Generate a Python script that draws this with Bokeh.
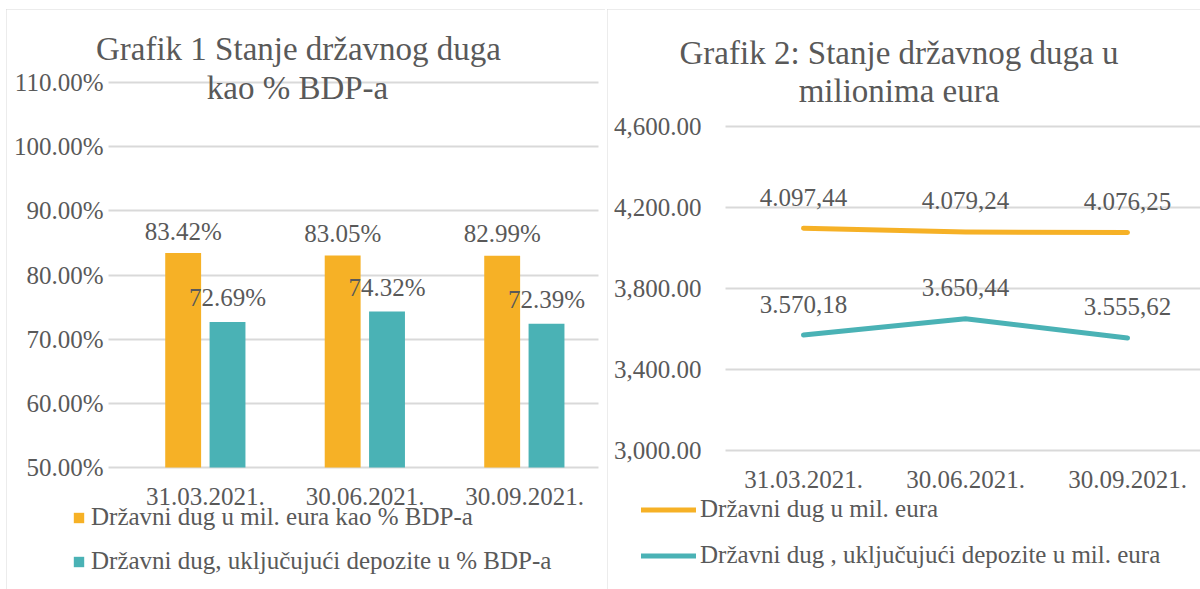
from bokeh.plotting import figure
from bokeh.models import (Range1d, FixedTicker, PrintfTickFormatter, NumeralTickFormatter,
                          ColumnDataSource, LabelSet, Label, Legend, LegendItem)
from bokeh.layouts import row
from bokeh.embed import file_html
from bokeh.resources import INLINE
from bokeh.transform import dodge
from bokeh.core.properties import value

# ---------------- data ----------------
categories = ["31.03.2021.", "30.06.2021.", "30.09.2021."]
debt_pct = [83.42, 83.05, 82.99]
debt_dep_pct = [72.69, 74.32, 72.39]
debt_mil = [4097.44, 4079.24, 4076.25]
debt_dep_mil = [3570.18, 3650.44, 3555.62]
pct_ticks = [50, 60, 70, 80, 90, 100, 110]
mil_ticks = [3000, 3400, 3800, 4200, 4600]
series1_left = "Državni dug u mil. eura kao % BDP-a"
series2_left = "Državni dug, uključujući depozite u % BDP-a"
series1_right = "Državni dug u mil. eura"
series2_right = "Državni dug , uključujući depozite u mil. eura"
title1 = ["Grafik 1 Stanje državnog duga", "kao % BDP-a"]
title2 = ["Grafik 2: Stanje državnog duga u", "milionima eura"]

ORANGE = "#F6B126"
TEAL = "#4AB2B5"
TXT = "#595959"
GRID = "#D9D9D9"
FONT = "Liberation Serif"


def eu(v):
    s = f"{v:,.2f}"
    return s.replace(",", "#").replace(".", ",").replace("#", ".")


pos = list(range(len(categories)))
overrides = {i: c for i, c in enumerate(categories)}
border_style = {"outline": "2px solid #D9D9D9", "outline-offset": "-2px"}


def style_axes(p, ystandoff, yfix, xfix, gbounds):
    for ax in (p.xaxis[0], p.yaxis[0]):
        ax.axis_line_color = None
        ax.major_tick_line_color = None
        ax.minor_tick_line_color = None
        ax.major_tick_out = 0
        ax.major_tick_in = 0
        ax.minor_tick_out = 0
        ax.minor_tick_in = 0
        ax.major_label_text_font = FONT
        ax.major_label_text_font_size = "25px"
        ax.major_label_text_color = TXT
    p.yaxis[0].major_label_standoff = ystandoff
    p.xaxis[0].major_label_standoff = 20
    p.yaxis[0].fixed_location = yfix
    p.xaxis[0].fixed_location = xfix
    p.xgrid.visible = False
    p.ygrid.grid_line_color = GRID
    p.ygrid.grid_line_width = 2
    p.ygrid.cross_bounds = gbounds
    p.outline_line_color = None


# ---------------- left: bar chart ----------------
src1 = ColumnDataSource(dict(
    x=pos, a=debt_pct, b=debt_dep_pct,
    al=[f"{v:.2f}%" for v in debt_pct], bl=[f"{v:.2f}%" for v in debt_dep_pct]))

p1 = figure(width=599, height=580, output_backend="svg", toolbar_location=None,
            x_range=Range1d(-1.2476, 2.5078), y_range=Range1d(30.99, 121.38),
            min_border_left=0, min_border_right=0, min_border_top=0, min_border_bottom=0,
            margin=(9, 0, 0, 6))
p1.styles = border_style
style_axes(p1, 5, -0.6082, 50, (-0.6082, 2.464))
p1.yaxis[0].ticker = FixedTicker(ticks=pct_ticks)
p1.yaxis[0].formatter = PrintfTickFormatter(format="%.2f%%")
p1.xaxis[0].ticker = FixedTicker(ticks=pos)
p1.xaxis[0].major_label_overrides = overrides

rA = p1.vbar(x=dodge("x", -0.14, range=p1.x_range), top="a", bottom=50, width=0.225,
             source=src1, fill_color=ORANGE, line_color=None)
rB = p1.vbar(x=dodge("x", 0.138, range=p1.x_range), top="b", bottom=50, width=0.225,
             source=src1, fill_color=TEAL, line_color=None)

p1.add_layout(LabelSet(x=dodge("x", -0.14, range=p1.x_range), y="a", text="al", source=src1,
                       y_offset=22, text_align="center", text_baseline="middle",
                       text_font=value(FONT), text_font_size=value("25px"), text_color=TXT))
p1.add_layout(LabelSet(x=dodge("x", 0.138, range=p1.x_range), y="b", text="bl", source=src1,
                       y_offset=24, text_align="center", text_baseline="middle",
                       text_font=value(FONT), text_font_size=value("25px"), text_color=TXT))

p1.add_layout(Label(x=292, y=541, x_units="screen", y_units="screen", text=title1[0],
                    text_align="center", text_baseline="middle", text_font=FONT,
                    text_font_size="33px", text_color=TXT))
p1.add_layout(Label(x=291, y=502, x_units="screen", y_units="screen", text=title1[1],
                    text_align="center", text_baseline="middle", text_font=FONT,
                    text_font_size="33px", text_color=TXT))

leg1 = Legend(items=[LegendItem(label=series1_left, renderers=[rA]),
                     LegendItem(label=series2_left, renderers=[rB])],
              location=(66, 14), orientation="vertical",
              glyph_width=13, glyph_height=13, label_height=28, spacing=16,
              label_standoff=6, padding=0, margin=0,
              border_line_color=None, background_fill_alpha=0,
              label_text_font=FONT, label_text_font_size="25px", label_text_color=TXT)
p1.add_layout(leg1)

# ---------------- right: line chart ----------------
src2 = ColumnDataSource(dict(
    x=pos, a=debt_mil, b=debt_dep_mil,
    al=[eu(v) for v in debt_mil], bl=[eu(v) for v in debt_dep_mil]))

p2 = figure(width=593, height=580, output_backend="svg", toolbar_location=None,
            x_range=Range1d(-1.2099, 2.4506), y_range=Range1d(2313.6, 5177.8),
            min_border_left=0, min_border_right=0, min_border_top=0, min_border_bottom=0,
            margin=(9, 0, 0, 2))
p2.styles = border_style
style_axes(p2, 24, -0.4815, 3000, (-0.4815, 2.4506))
p2.yaxis[0].ticker = FixedTicker(ticks=mil_ticks)
p2.yaxis[0].formatter = NumeralTickFormatter(format="0,0.00")
p2.xaxis[0].ticker = FixedTicker(ticks=pos)
p2.xaxis[0].major_label_overrides = overrides

lA = p2.line(x="x", y="a", source=src2, line_color=ORANGE, line_width=5, line_cap="round",
             line_join="round")
lB = p2.line(x="x", y="b", source=src2, line_color=TEAL, line_width=5, line_cap="round",
             line_join="round")

p2.add_layout(LabelSet(x="x", y="a", text="al", source=src2, y_offset=31,
                       text_align="center", text_baseline="middle",
                       text_font=value(FONT), text_font_size=value("25px"), text_color=TXT))
p2.add_layout(LabelSet(x="x", y="b", text="bl", source=src2, y_offset=31,
                       text_align="center", text_baseline="middle",
                       text_font=value(FONT), text_font_size=value("25px"), text_color=TXT))

p2.add_layout(Label(x=291.5, y=537, x_units="screen", y_units="screen", text=title2[0],
                    text_align="center", text_baseline="middle", text_font=FONT,
                    text_font_size="33px", text_color=TXT))
p2.add_layout(Label(x=291.5, y=499, x_units="screen", y_units="screen", text=title2[1],
                    text_align="center", text_baseline="middle", text_font=FONT,
                    text_font_size="33px", text_color=TXT))

leg2 = Legend(items=[LegendItem(label=series1_right, renderers=[lA]),
                     LegendItem(label=series2_right, renderers=[lB])],
              location=(34, 20), orientation="vertical",
              glyph_width=55, glyph_height=13, label_height=28, spacing=18,
              label_standoff=4, padding=0, margin=0,
              border_line_color=None, background_fill_alpha=0,
              label_text_font=FONT, label_text_font_size="25px", label_text_color=TXT)
p2.add_layout(leg2)

layout = row(p1, p2)
open("out.html", "w").write(file_html(layout, INLINE))
